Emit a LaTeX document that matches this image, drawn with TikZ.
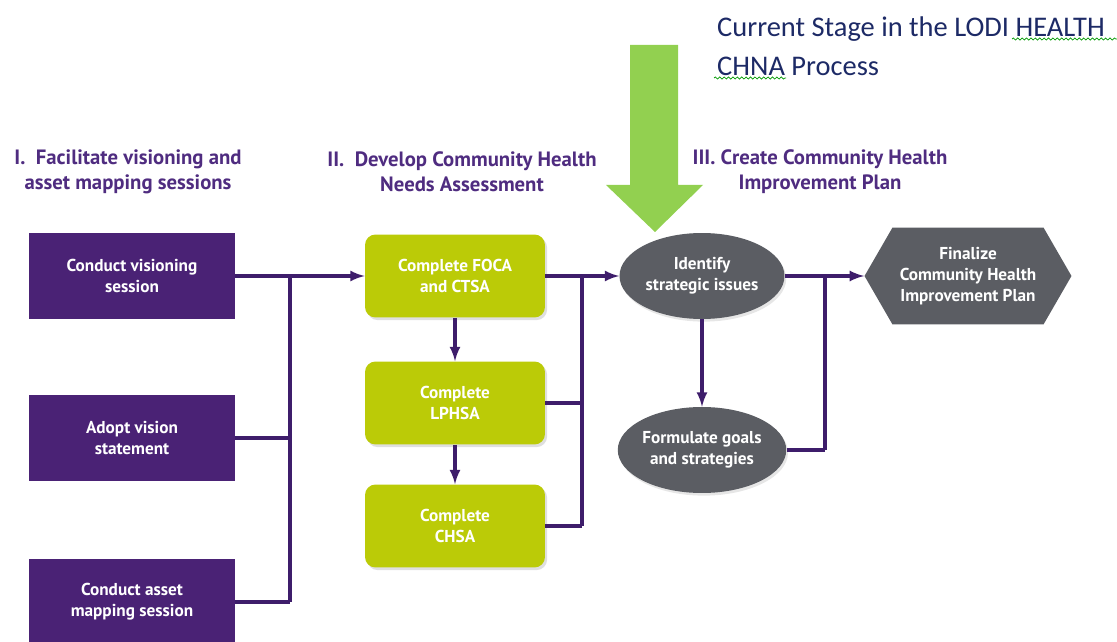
\documentclass[tikz,border=0pt]{standalone}
\usepackage{fontspec}
\setmainfont{PT Sans}
\newfontfamily\titlefont{Carlito}
\usepackage{xcolor}
\usetikzlibrary{arrows.meta, decorations.pathmorphing, positioning, shadows, shapes.geometric, shapes.symbols}

\definecolor{plum}{HTML}{4A2275}
\definecolor{lime}{HTML}{BBCB07}
\definecolor{slate}{HTML}{5B5D63}
\definecolor{leaf}{HTML}{92D050}
\definecolor{navy}{HTML}{1D2A66}
\definecolor{wire}{HTML}{3E1D6B}
\definecolor{heading}{HTML}{4F2C80}

\tikzset{
  boxfont/.style={font=\bfseries\fontsize{9.8}{12}\selectfont},
  phasebox/.style={boxfont, fill=plum, text=white, align=center, minimum width=4.12cm,
    minimum height=1.72cm},
  taskbox/.style={boxfont, fill=lime, text=white, align=center, rounded corners=6pt,
    minimum width=3.6cm, minimum height=1.66cm,
    drop shadow={opacity=0.25, shadow xshift=1.2pt, shadow yshift=-1.5pt}},
  issuebox/.style={boxfont, ellipse, fill=slate, text=white, align=center, inner sep=0pt,
    minimum width=3.3cm, minimum height=1.72cm,
    drop shadow={opacity=0.2, shadow xshift=1pt, shadow yshift=-1.5pt}},
  planbox/.style={boxfont, signal, signal to=west and east, signal pointer angle=120,
    fill=slate, text=white, align=center, inner sep=0pt,
    minimum width=4.14cm, minimum height=1.94cm},
  phasetitle/.style={text=heading, align=center, font=\bfseries\fontsize{11.8}{14.2}\selectfont},
  link/.style={wire, line width=1.8pt},
  spellmark/.style={green!60!black, line width=0.4pt,
    decorate, decoration={snake, amplitude=0.6pt, segment length=2.5pt}}
}

\begin{document}
\begin{tikzpicture}[x=0.02cm, y=-0.02cm]
\useasboundingbox (0,0) rectangle (1117,642);

% phase headings
\node[phasetitle] (head1) at (128,172) {I.\ \ Facilitate visioning and\\asset mapping sessions};
\node[phasetitle] (head2) at (462,172) {II.\ \ Develop Community Health\\Needs Assessment};
\node[phasetitle] (head3) at (820,172) {III. Create Community Health\\Improvement Plan};

% current stage marker
\fill[leaf] (630,45) -- (678,45) -- (678,185) -- (703,185) -- (655,232)
  -- (606,185) -- (630,185) -- cycle;
\node[text=navy, align=left, anchor=west, font=\titlefont\fontsize{16.2}{22}\selectfont]
  (stage) at (711,46) {Current Stage in the LODI HEALTH\\CHNA Process};
\draw[spellmark] (1012,39) -- (1117,39);
\draw[spellmark] (714,78) -- (786,78);

% phase I
\node[phasebox] (vision) at (132,276) {Conduct visioning\\session};
\node[phasebox] (adopt)  at (132,438) {Adopt vision\\statement};
\node[phasebox] (asset)  at (132,602) {Conduct asset\\mapping session};

% phase II
\node[taskbox] (foca)  at (455,276) {Complete FOCA\\and CTSA};
\node[taskbox] (lphsa) at (455,403) {Complete\\LPHSA};
\node[taskbox] (chsa)  at (455,526) {Complete\\CHSA};

% phase III
\node[issuebox] (issues) at (702,276) {Identify\\strategic issues};
\node[issuebox] (goals)  at (702,450) {Formulate goals\\and strategies};
\node[planbox]  (plan)   at (968,276) {Finalize\\Community Health\\Improvement Plan};

\path coordinate (busA) at (290,276)
      coordinate (busB) at (582,276)
      coordinate (busC) at (825,276);

% connectors
\draw[link,-latex] (vision.east) -- (foca.west);
\draw[link] (adopt.east) -- (adopt.east -| busA);
\draw[link] (asset.east) -- (asset.east -| busA);
\draw[link] (busA) -- (busA |- asset.east);

\draw[link,-latex] (foca) -- (lphsa);
\draw[link,-latex] (lphsa) -- (chsa);
\draw[link,-latex] (foca.east) -- (issues.west);
\draw[link] (lphsa.east) -- (lphsa.east -| busB);
\draw[link] (chsa.east) -- (chsa.east -| busB);
\draw[link] (busB) -- (busB |- chsa.east);

\draw[link,-latex] (issues) -- (goals);
\draw[link,-latex] (issues.east) -- (plan.west);
\draw[link] (goals.east) -- (goals.east -| busC);
\draw[link] (busC) -- (busC |- goals.east);
\end{tikzpicture}
\end{document}
